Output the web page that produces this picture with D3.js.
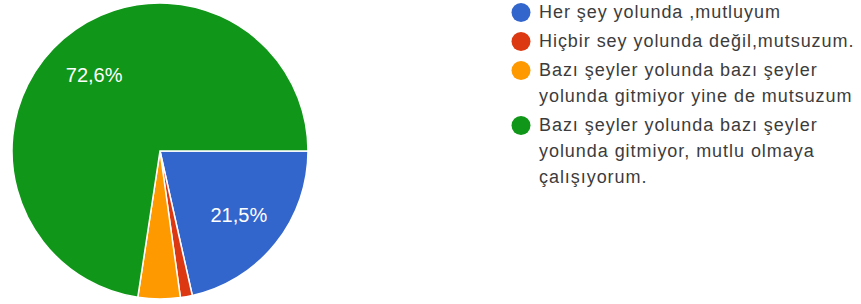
<!DOCTYPE html>
<html><head><meta charset="utf-8">
<script src="https://cdn.jsdelivr.net/npm/d3@7/dist/d3.min.js"></script>
<style>body{margin:0;background:#fff;}svg{display:block;font-family:Arial,"Liberation Sans",sans-serif;}</style>
</head><body>
<svg id="c" width="861" height="304"></svg>
<script>
const categories = ["Her şey yolunda ,mutluyum","Hiçbir sey yolunda değil,mutsuzum.","Bazı şeyler yolunda bazı şeyler yolunda gitmiyor yine de mutsuzum","Bazı şeyler yolunda bazı şeyler yolunda gitmiyor, mutlu olmaya çalışıyorum."];
const legendLines = [["Her şey yolunda ,mutluyum"],["Hiçbir sey yolunda değil,mutsuzum."],["Bazı şeyler yolunda bazı şeyler","yolunda gitmiyor yine de mutsuzum"],["Bazı şeyler yolunda bazı şeyler","yolunda gitmiyor, mutlu olmaya","çalışıyorum."]];
const values = [21.5, 1.3, 4.6, 72.6];
const labels = ["21,5%", "", "", "72,6%"];
const colors = ["#3366cc","#dc3912","#ff9900","#109618"];

const svg = d3.select("#c");
const cx = 160, cy = 151, r = 148;
const pie = d3.pie().sort(null).startAngle(Math.PI/2).endAngle(Math.PI/2 + 2*Math.PI)(values);
const arc = d3.arc().innerRadius(0).outerRadius(r);
const g = svg.append("g").attr("transform", `translate(${cx},${cy})`);
g.selectAll("path").data(pie).join("path")
  .attr("d", arc).attr("fill", (d,i)=>colors[i]).attr("stroke","#fff").attr("stroke-width",1.5);
const la = d3.arc().innerRadius(101).outerRadius(101);
g.selectAll("text").data(pie).join("text")
  .attr("transform", d => { const c = la.centroid(d); return `translate(${c[0]},${c[1]})`; })
  .attr("text-anchor","middle").attr("dy","0.4em")
  .attr("fill","#fff").attr("font-size",20)
  .text((d,i)=>labels[i]);

const lg = svg.append("g");
let y = 17.5;
legendLines.forEach((lines,i)=>{
  lg.append("circle").attr("cx",521).attr("cy",y-5).attr("r",9.5).attr("fill",colors[i]);
  lines.forEach((t,j)=>{
    lg.append("text").attr("x",539).attr("y",y + j*26)
      .attr("font-size",18).attr("letter-spacing","0.95px").attr("fill","#3c3c3c").text(t);
  });
  y += (lines.length-1)*26 + 29;
});
</script>
</body></html>
